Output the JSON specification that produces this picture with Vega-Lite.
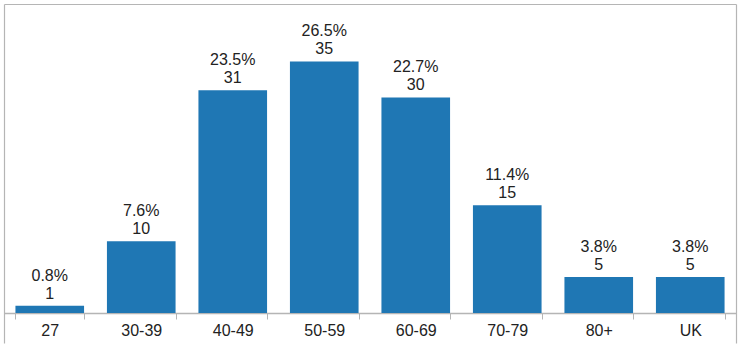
{
  "$schema": "https://vega.github.io/schema/vega-lite/v6.json",
  "width": 732,
  "height": 339,
  "autosize": "none",
  "padding": {"left": 4, "top": 4, "right": 7, "bottom": 12},
  "background": "white",
  "config": {
    "view": {"stroke": null},
    "font": "Liberation Sans"
  },
  "data": {
    "values": [
      {"age": "27", "count": 1, "pct": "0.8%"},
      {"age": "30-39", "count": 10, "pct": "7.6%"},
      {"age": "40-49", "count": 31, "pct": "23.5%"},
      {"age": "50-59", "count": 35, "pct": "26.5%"},
      {"age": "60-69", "count": 30, "pct": "22.7%"},
      {"age": "70-79", "count": 15, "pct": "11.4%"},
      {"age": "80+", "count": 5, "pct": "3.8%"},
      {"age": "UK", "count": 5, "pct": "3.8%"}
    ]
  },
  "encoding": {
    "x": {
      "field": "age",
      "type": "nominal",
      "sort": null,
      "scale": {"paddingInner": 0.25, "paddingOuter": 0.125}
    },
    "y": {
      "field": "count",
      "type": "quantitative",
      "scale": {"domain": [-4.17, 43], "nice": false, "zero": false}
    }
  },
  "layer": [
    {
      "mark": {"type": "bar", "color": "#1f77b4"},
      "encoding": {
        "x": {
          "field": "age",
          "type": "nominal",
          "sort": null,
          "axis": {
            "title": null,
            "orient": "bottom",
            "offset": -30,
            "labelAngle": 0,
            "labelFontSize": 16,
            "labelFont": "Liberation Sans",
            "labelColor": "#222222",
            "labelPadding": 3,
            "tickBand": "extent",
            "tickColor": "#b5b5b5",
            "tickSize": 6,
            "domainColor": "#b5b5b5",
            "domainWidth": 1.5
          }
        },
        "y": {
          "field": "count",
          "type": "quantitative",
          "axis": {"orient": "left", "title": null, "labels": false, "ticks": false, "grid": false, "domainColor": "#b5b5b5", "domainWidth": 1.2}
        }
      }
    },
    {
      "mark": {"type": "text", "baseline": "alphabetic", "dy": -7, "fontSize": 16, "color": "#222222"},
      "encoding": {
        "x": {
          "field": "age",
          "type": "nominal",
          "sort": null,
          "axis": {"orient": "top", "title": null, "labels": false, "ticks": false, "domainColor": "#b5b5b5", "domainWidth": 1.2}
        },
        "y": {
          "field": "count",
          "type": "quantitative",
          "axis": {"orient": "right", "title": null, "labels": false, "ticks": false, "grid": false, "domainColor": "#b5b5b5", "domainWidth": 1.2}
        },
        "text": {"field": "count", "type": "quantitative"}
      }
    },
    {
      "mark": {"type": "text", "baseline": "alphabetic", "dy": -25, "fontSize": 16, "color": "#222222"},
      "encoding": {
        "x": {"field": "age", "type": "nominal", "sort": null, "axis": null},
        "y": {"field": "count", "type": "quantitative", "axis": null},
        "text": {"field": "pct", "type": "nominal"}
      }
    }
  ],
  "resolve": {"axis": {"x": "independent", "y": "independent"}}
}
